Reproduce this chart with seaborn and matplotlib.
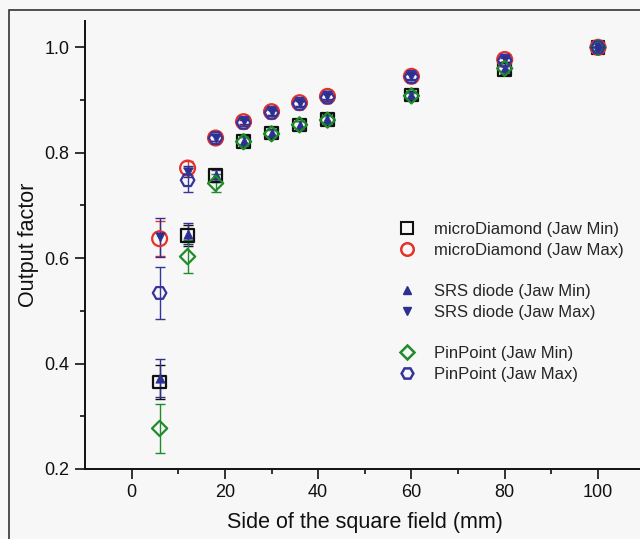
import numpy as np
import pandas as pd
import matplotlib
matplotlib.use("Agg")
import matplotlib.pyplot as plt
from matplotlib.patches import Rectangle
from matplotlib.lines import Line2D
import seaborn as sns

# ---- data ----
field = [6, 12, 18, 24, 30, 36, 42, 60, 80, 100]

md_min = [0.365, 0.643, 0.757, 0.821, 0.838, 0.853, 0.863, 0.910, 0.958, 1.0]
md_min_err = [0.032, 0.020, 0.012, 0.008, 0.008, 0.008, 0.010, 0.008, 0.008, 0.0]

md_max = [0.637, 0.771, 0.828, 0.859, 0.878, 0.895, 0.907, 0.945, 0.977, 1.0]
md_max_err = [0.033, 0.013, 0.006, 0.006, 0.006, 0.006, 0.006, 0.006, 0.005, 0.0]

srs_min = [0.372, 0.646, 0.757, 0.823, 0.838, 0.853, 0.864, 0.910, 0.960, 1.0]
srs_min_err = [0.036, 0.020, 0.010, 0.008, 0.007, 0.007, 0.008, 0.006, 0.005, 0.0]

srs_max = [0.640, 0.764, 0.828, 0.860, 0.878, 0.895, 0.908, 0.946, 0.978, 1.0]
srs_max_err = [0.037, 0.010, 0.006, 0.006, 0.006, 0.006, 0.006, 0.006, 0.005, 0.0]

pp_min = [0.277, 0.603, 0.742, 0.821, 0.836, 0.853, 0.862, 0.908, 0.960, 1.0]
pp_min_err = [0.047, 0.032, 0.017, 0.008, 0.008, 0.007, 0.007, 0.006, 0.006, 0.0]

pp_max = [0.534, 0.748, 0.828, 0.857, 0.876, 0.893, 0.905, 0.944, 0.975, 1.0]
pp_max_err = [0.050, 0.023, 0.006, 0.006, 0.006, 0.006, 0.006, 0.006, 0.005, 0.0]

labels = ["microDiamond (Jaw Min)", "microDiamond (Jaw Max)",
          "SRS diode (Jaw Min)", "SRS diode (Jaw Max)",
          "PinPoint (Jaw Min)", "PinPoint (Jaw Max)"]

xticks = [0, 20, 40, 60, 80, 100]
yticks = [0.2, 0.4, 0.6, 0.8, 1.0]

# ---- style ----
sns.set_theme(style="ticks")
plt.rcParams["font.family"] = ["Liberation Sans", "DejaVu Sans"]

BG = "#f7f7f7"
BLACK = "#111111"
RED = "#e8302a"
NAVY = "#2c3190"
BLUE_HEX = "#34349a"
GREEN = "#1f8b2a"

series = [
    dict(y=md_min, e=md_min_err, marker="s", s=80, fc="none", ec=BLACK, lw=1.6, ecolor=BLACK),
    dict(y=md_max, e=md_max_err, marker="o", s=115, fc="none", ec=RED, lw=1.6, ecolor=RED),
    dict(y=srs_min, e=srs_min_err, marker="^", s=45, fc=NAVY, ec=NAVY, lw=0.5, ecolor=NAVY),
    dict(y=srs_max, e=srs_max_err, marker="v", s=45, fc=NAVY, ec=NAVY, lw=0.5, ecolor=NAVY),
    dict(y=pp_min, e=pp_min_err, marker="D", s=60, fc="none", ec=GREEN, lw=1.6, ecolor=GREEN),
    dict(y=pp_max, e=pp_max_err, marker="H", s=95, fc="none", ec=BLUE_HEX, lw=1.6, ecolor=BLUE_HEX),
]

fig = plt.figure(figsize=(6.4, 5.39), dpi=100, facecolor=BG)
ax = fig.add_axes([85 / 640, 1 - 469 / 539, (644.6 - 85) / 640, (469 - 21) / 539])
ax.set_facecolor(BG)

for i, sd in enumerate(series):
    df = pd.DataFrame({"x": field, "y": sd["y"]})
    ax.errorbar(field, sd["y"], yerr=sd["e"], fmt="none", ecolor=sd["ecolor"],
                elinewidth=1.0, capsize=3.5, capthick=1.0, zorder=2 + i * 0.1)
    sns.scatterplot(data=df, x="x", y="y", ax=ax, marker=sd["marker"], s=sd["s"],
                    facecolor=sd["fc"], edgecolor=sd["ec"], linewidth=sd["lw"],
                    zorder=3 + i * 0.1, legend=False)

ax.set_xlim(-10, 110)
ax.set_ylim(0.2, 1.05)
ax.set_xticks(xticks)
ax.set_yticks(yticks)
ax.set_xticks(np.arange(10, 110, 20), minor=True)
ax.set_yticks(np.arange(0.3, 1.01, 0.2), minor=True)
ax.set_yticklabels([f"{v:.1f}" for v in yticks])
ax.tick_params(axis="both", which="major", direction="out", length=7, width=1.2,
               labelsize=13, color=BLACK, labelcolor=BLACK, pad=4)
ax.tick_params(axis="both", which="minor", direction="out", length=3.5, width=1.2, color=BLACK)

for side in ["top", "right"]:
    ax.spines[side].set_visible(False)
for side in ["left", "bottom"]:
    ax.spines[side].set_linewidth(1.4)
    ax.spines[side].set_color(BLACK)

ax.set_xlabel("Side of the square field (mm)", fontsize=15.5, color=BLACK, labelpad=8)
ax.set_ylabel("Output factor", fontsize=15.5, color=BLACK, labelpad=4)

# legend with blank separator rows
blank = Line2D([], [], linestyle="none", marker=None)
leg_items = [
    Line2D([], [], linestyle="none", marker="s", markersize=8, markerfacecolor="none",
           markeredgecolor=BLACK, markeredgewidth=1.5),
    Line2D([], [], linestyle="none", marker="o", markersize=9, markerfacecolor="none",
           markeredgecolor=RED, markeredgewidth=1.8),
    Line2D([], [], linestyle="none", marker="^", markersize=6, markerfacecolor=NAVY,
           markeredgecolor=NAVY),
    Line2D([], [], linestyle="none", marker="v", markersize=6, markerfacecolor=NAVY,
           markeredgecolor=NAVY),
    Line2D([], [], linestyle="none", marker="D", markersize=7, markerfacecolor="none",
           markeredgecolor=GREEN, markeredgewidth=1.8),
    Line2D([], [], linestyle="none", marker="H", markersize=8.5, markerfacecolor="none",
           markeredgecolor=BLUE_HEX, markeredgewidth=1.8),
]
handles = [leg_items[0], leg_items[1], blank, leg_items[2], leg_items[3], blank,
           leg_items[4], leg_items[5]]
leg_labels = [labels[0], labels[1], " ", labels[2], labels[3], " ", labels[4], labels[5]]
leg = ax.legend(handles, leg_labels, loc="upper left",
                bbox_to_anchor=(399 / 640, 1 - 222 / 539), bbox_transform=fig.transFigure,
                frameon=False, fontsize=12, labelspacing=0.34, handlelength=1.0,
                handletextpad=1.1, borderpad=0, borderaxespad=0)

# figure frame
fig.patches.append(Rectangle((9 / 640, -0.05), 1.1, 1 - 10 / 539 + 0.05,
                             transform=fig.transFigure, fill=False,
                             edgecolor="#333333", linewidth=1.2, zorder=0))

fig.savefig("out.png", dpi=100, facecolor=BG)
